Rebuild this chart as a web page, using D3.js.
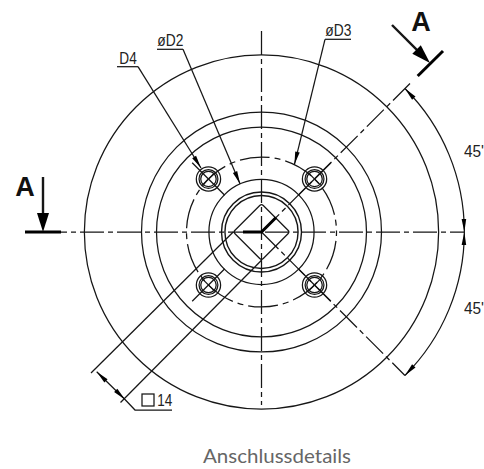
<!DOCTYPE html>
<html>
<head>
    <meta charset="UTF-8">
    <title>Anschlussdetails</title>
    <style>
        html, body { margin: 0; padding: 0; background: #fff; }
        svg { display: block; }
        .thin { fill: none; stroke: #161616; stroke-width: 1.25px; }
        .thick { fill: none; stroke: #000; stroke-width: 3px; }
        .center { fill: none; stroke: #161616; stroke-width: 1.25px; stroke-dasharray: 24 4 5 4; }
        .head { fill: #000; stroke: none; }
        .cad { font-family: "Liberation Sans", sans-serif; font-size: 16px; fill: #222; }
        .mark { font-family: "Liberation Sans", sans-serif; font-weight: bold; font-size: 27px; fill: #111; }
        .caption { font-family: Lato, "Open Sans", sans-serif; font-size: 19px; fill: #666; }
    </style>
</head>
<body>
<svg width="484" height="469"></svg>
<script src="https://cdn.jsdelivr.net/npm/d3@7"></script>
<script>

    // all sizes in mm (square is 14 mm across)
    var circleDiameters = [124, 84, 73.5, 36.8, 28, 25.6];
    var boltCircleDiameter = 52.5;
    var holeDiameters = [8.5, 6.6, 5.4];
    var boltAngles = [45, 135, 225, 315];
    var squareSide = 14;
    var squareLabel = "14";
    var dimArcDiameter = 142;
    var angleValues = [45, 45];
    var angleLabels = ["45'", "45'"];
    var leaderLabels = ["D4", "\u00f8D2", "\u00f8D3"];
    var sectionLabel = "A";
    var caption = "Anschlussdetails";

    var svg = d3.select("svg");
    var width = +svg.attr("width");
    var height = +svg.attr("height");
    var pxPerMm = 2.857;
    var cx = 261.5, cy = 232;

    // mm to pixel, y up
    var x = d3.scaleLinear().domain([-cx / pxPerMm, (width - cx) / pxPerMm]).range([0, width]);
    var y = d3.scaleLinear().domain([cy / pxPerMm, (cy - height) / pxPerMm]).range([0, height]);
    var len = function (mm) { return x(mm) - x(0); };

    var line = d3.line();
    var g = svg.append("g");

    // point at polar position, angle counted clockwise from 12 o'clock, radius in mm
    function polar(r, deg) {
        var a = deg * Math.PI / 180;
        return [x(r * Math.sin(a)), y(r * Math.cos(a))];
    }

    function arrow(tip, from, size, w) {
        var a = Math.atan2(from[1] - tip[1], from[0] - tip[0]) * 180 / Math.PI;
        g.append("path").attr("class", "head")
            .attr("d", line([[0, 0], [size, -w / 2], [size, w / 2]]))
            .attr("transform", "translate(" + tip + ") rotate(" + a + ")");
    }

    // CAD lettering is narrow, squeeze it to the measured width
    function cadText(px, py, w, s) {
        g.append("text").attr("class", "cad")
            .attr("x", px).attr("y", py)
            .attr("textLength", w).attr("lengthAdjust", "spacingAndGlyphs")
            .text(s);
    }

    // concentric circles
    g.selectAll(".ring").data(circleDiameters).join("circle")
        .attr("class", "ring thin")
        .attr("cx", x(0)).attr("cy", y(0))
        .attr("r", function (d) { return len(d / 2); })
        .style("stroke-width", function (d, i) { return i > 3 ? "1.4px" : null; });

    // bolt circle
    g.append("circle").attr("class", "thin")
        .attr("cx", x(0)).attr("cy", y(0)).attr("r", len(boltCircleDiameter / 2))
        .style("stroke-dasharray", "30 5 6 5")
        .style("stroke-dashoffset", -9);

    // centre lines
    var dimR = dimArcDiameter / 2;
    var centerLines = [
        [[43, 232], [polar(dimR, 90)[0], 232]],
        [[261.5, 31], [261.5, 405]],
        [polar(dimR + 2.5, 45), polar(0, 0)],
        [polar(0, 0), polar(dimR, 135)]
    ];
    g.selectAll(".center").data(centerLines).join("path")
        .attr("class", "center")
        .attr("d", line);

    // square drive
    g.append("rect").attr("class", "thin")
        .attr("x", x(-squareSide / 2)).attr("y", y(squareSide / 2))
        .attr("width", len(squareSide)).attr("height", len(squareSide))
        .attr("rx", 2.5)
        .attr("transform", "rotate(45 " + x(0) + " " + y(0) + ")");

    // bolt holes
    var holes = g.selectAll(".hole").data(boltAngles).join("g")
        .attr("class", "hole")
        .attr("transform", function (d) { return "translate(" + polar(boltCircleDiameter / 2, d) + ")"; });
    holeDiameters.forEach(function (d) {
        holes.append("circle").attr("class", "thin").attr("r", len(d / 2));
    });
    holes.append("path").attr("class", "thin")
        .attr("d", function (d) {
            var a = d * Math.PI / 180, s = 23;
            var ux = Math.sin(a), uy = -Math.cos(a);
            return line([[-ux * s, -uy * s], [ux * s, uy * s]]);
        });
    holes.append("path").attr("class", "thin")
        .attr("d", function (d) {
            var a = d * Math.PI / 180, s = 9;
            var ux = Math.cos(a), uy = Math.sin(a);
            return line([[-ux * s, -uy * s], [ux * s, uy * s]]);
        });

    // section line A-A, thick parts
    var thick = [
        [[25, 232], [61, 232]],
        [[243, 232], polar(0, 0), [276, 217.5]],
        [[417.7, 76], [443, 51]]
    ];
    g.selectAll(".cut").data(thick).join("path")
        .attr("class", "cut thick")
        .attr("d", line);

    var sectionArrows = [
        [[43, 177], [43, 232]],
        [[392, 25], [430, 63]]
    ];
    sectionArrows.forEach(function (s) {
        g.append("path").attr("class", "thin").style("stroke-width", "2.4px")
            .attr("d", line([s[0], [s[1][0] - (s[1][0] - s[0][0]) * 0.2, s[1][1] - (s[1][1] - s[0][1]) * 0.2]]));
        arrow(s[1], s[0], 19, 12);
    });

    g.append("text").attr("class", "mark").attr("x", 25).attr("y", 196).attr("text-anchor", "middle").text(sectionLabel);
    g.append("text").attr("class", "mark").attr("x", 421).attr("y", 31).attr("text-anchor", "middle").text(sectionLabel);

    // leaders: label, underline ends, arrow tip
    var leaders = [
        {label: leaderLabels[0], y: 66.7, x0: 117, x1: 138, knee: 138, tip: [201, 168], textX: 119.3, textW: 17.4},
        {label: leaderLabels[1], y: 49.3, x0: 157, x1: 183, knee: 183, tip: polar(circleDiameters[3] / 2, 336), textX: 157.3, textW: 26},
        {label: leaderLabels[2], y: 39.3, x0: 325, x1: 351, knee: 325, tip: polar(boltCircleDiameter / 2, 26), textX: 325.3, textW: 26}
    ];
    leaders.forEach(function (d) {
        g.append("path").attr("class", "thin")
            .attr("d", line([[d.x0, d.y], [d.x1, d.y]]));
        g.append("path").attr("class", "thin")
            .attr("d", line([[d.knee, d.y], d.tip]));
        arrow(d.tip, [d.knee, d.y], 13, 4.6);
        cadText(d.textX, d.y - 3, d.textW, d.label);
    });

    // angle dimension
    var arc = d3.arc().innerRadius(len(dimR)).outerRadius(len(dimR));
    var start = 45;
    angleValues.forEach(function (v, i) {
        var a0 = start + d3.sum(angleValues.slice(0, i));
        var a1 = a0 + v;
        g.append("path").attr("class", "thin")
            .attr("transform", "translate(" + x(0) + "," + y(0) + ")")
            .attr("d", arc({startAngle: a0 * Math.PI / 180, endAngle: a1 * Math.PI / 180}));
        arrow(polar(dimR, a0), polar(dimR, a0 + 4), 13, 4.6);
        arrow(polar(dimR, a1), polar(dimR, a1 - 4), 13, 4.6);
        cadText(464, i === 0 ? 157 : 314, 20, angleLabels[i]);
    });

    // square size dimension
    var ext = [
        [polar(squareSide / Math.SQRT2, 270), [91, 373]],
        [polar(squareSide / Math.SQRT2, 180), [120.5, 402.5]]
    ];
    g.selectAll(".ext").data(ext).join("path")
        .attr("class", "ext thin").attr("d", line);
    var p0 = [96.7, 371.7], p1 = [125, 399.5];
    g.append("path").attr("class", "thin").attr("d", line([p0, p1, [135, 410], [172, 410]]));
    arrow(p0, p1, 13, 4.6);
    arrow(p1, p0, 13, 4.6);
    g.append("rect").attr("class", "thin").attr("x", 142).attr("y", 394).attr("width", 12).attr("height", 12);
    cadText(157.3, 406, 15, squareLabel);

    svg.append("text").attr("class", "caption")
        .attr("x", 203).attr("y", 463)
        .attr("textLength", 148).attr("lengthAdjust", "spacingAndGlyphs")
        .text(caption);

</script>
</body>
</html>
